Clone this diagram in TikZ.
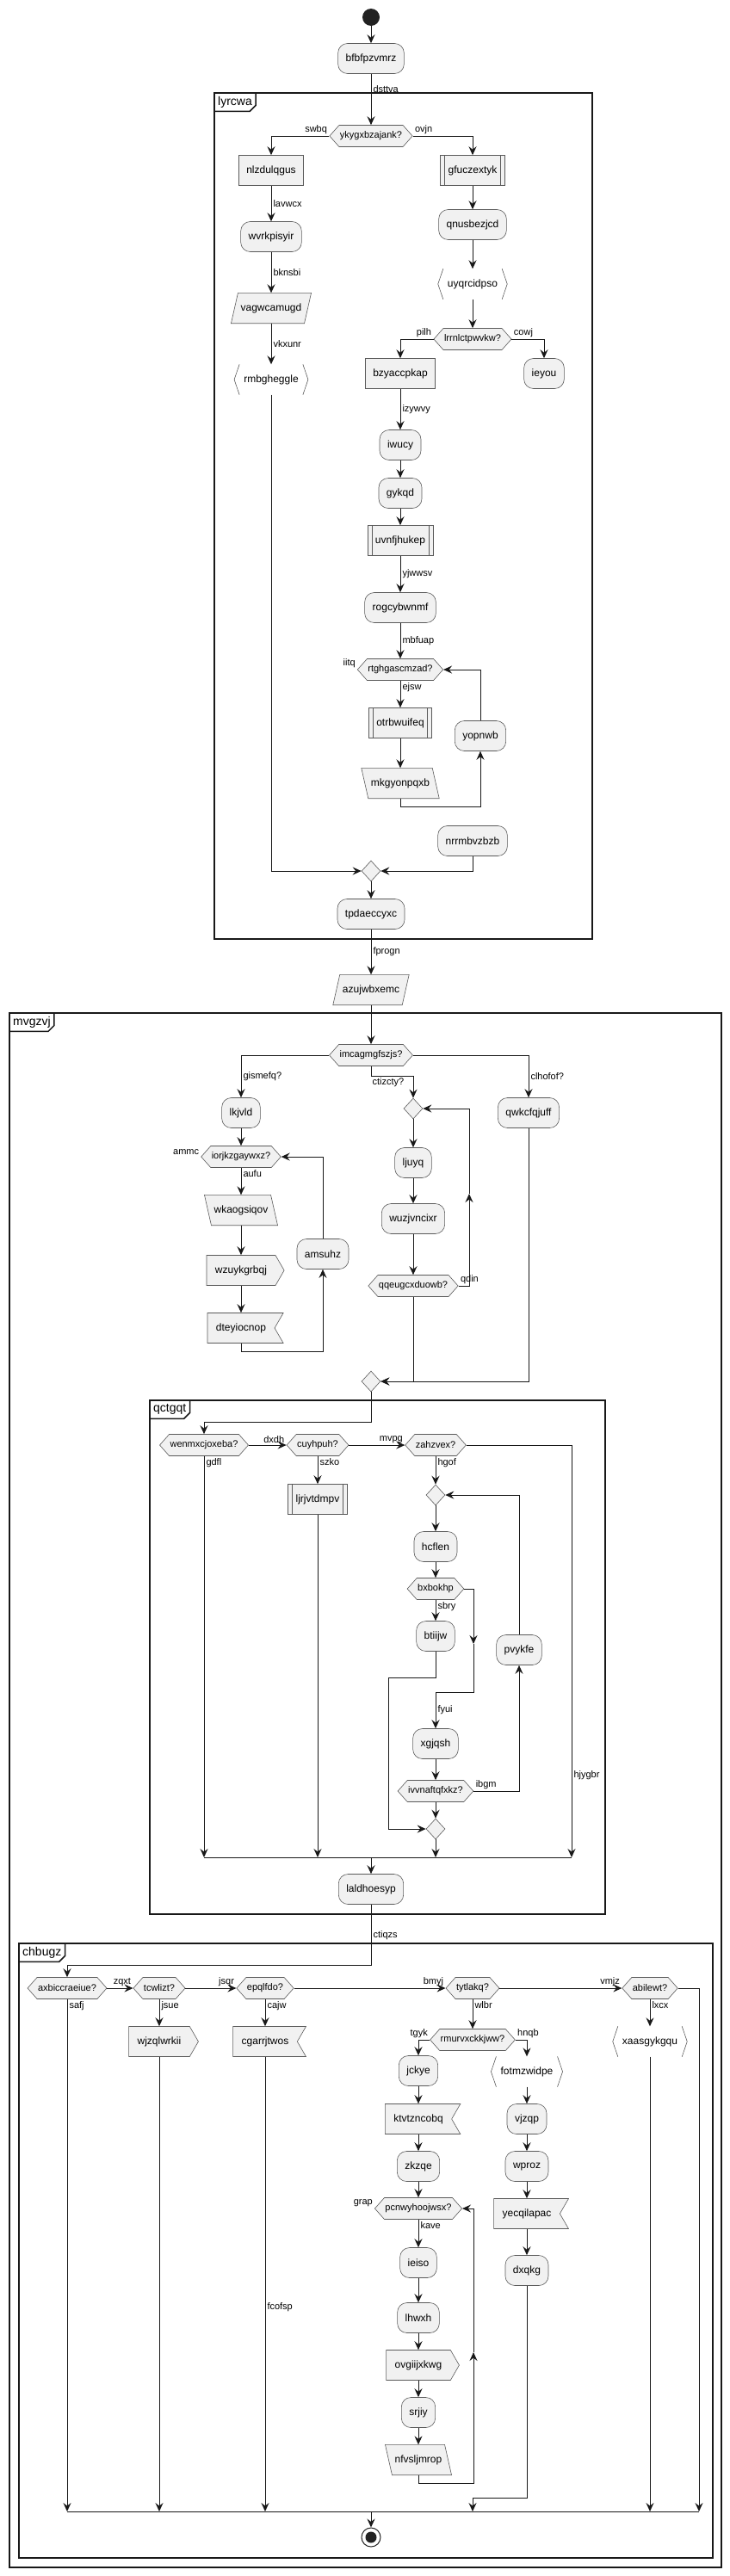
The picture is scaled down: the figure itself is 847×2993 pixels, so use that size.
\documentclass[tikz,border=0pt]{standalone}
\usepackage{fontspec}
\setmainfont{Liberation Sans}
\usetikzlibrary{arrows.meta,shapes.geometric,shapes.symbols,backgrounds}

\definecolor{linec}{HTML}{181818}
\definecolor{boxl}{HTML}{5A5A5A}
\definecolor{boxc}{HTML}{F1F1F1}
\definecolor{dotc}{HTML}{222222}

\tikzset{
    base/.style={draw=boxl, fill=boxc, line width=0.6pt, font=\fontsize{12}{14}\selectfont,
        minimum height=35pt, inner ysep=0pt, inner xsep=9pt},
    act/.style={base, rectangle, rounded corners=11pt},
    plain/.style={base, rectangle},
    sub/.style={base, rectangle, path picture={
        \draw[boxl, line width=0.6pt]
            ([xshift=5pt]path picture bounding box.north west) -- ([xshift=5pt]path picture bounding box.south west)
            ([xshift=-5pt]path picture bounding box.north east) -- ([xshift=-5pt]path picture bounding box.south east);}},
    para/.style={rectangle, font=\fontsize{12}{14}\selectfont, minimum height=35pt, inner ysep=0pt, inner xsep=7pt},
    sigout/.style={base, signal, signal to=east, signal pointer angle=120, inner xsep=10pt},
    signotch/.style={base, signal, signal from=east, signal to=nowhere, signal pointer angle=120, inner xsep=10pt},
    brk/.style={rectangle, font=\fontsize{12}{14}\selectfont, minimum height=35pt, inner ysep=0pt, inner xsep=11pt},
    hex/.style={base, signal, signal to=west and east, signal pointer angle=97,
        font=\fontsize{11}{13}\selectfont, minimum height=25pt, inner xsep=1pt},
    mrg/.style={diamond, draw=boxl, fill=boxc, line width=0.6pt, minimum width=22pt, minimum height=24pt, inner sep=0pt},
    lbl/.style={font=\fontsize{11}{13}\selectfont, inner sep=2pt},
    arr/.style={draw=linec, line width=1pt, -{Stealth[length=10pt,width=9pt,inset=3.5pt]}},
    ln/.style={draw=linec, line width=1pt},
    frm/.style={draw=linec, line width=1.5pt},
    frmlbl/.style={font=\fontsize{14}{16}\selectfont, inner xsep=4pt, inner ysep=0pt, minimum height=21pt, anchor=north west}
}

\begin{document}
\begin{tikzpicture}[x=1pt, y=-1pt]
    \useasboundingbox (0,0) rectangle (847,2993);

    \foreach \ax/\ay/\bx/\by/\fname in {249/108/688/1091/lyrcwa, 11/1177/838/2983/mvgzvj,
            174/1627/703/2224/qctgqt, 22/2258/828/2972/chbugz}{
        \draw[frm] (\ax,\ay) rectangle (\bx,\by);
        \node[frmlbl] (t\fname) at (\ax,\ay) {\fname};
        \draw[frm] (t\fname.south west) -- ([xshift=-7pt]t\fname.south east) -- ([yshift=7pt]t\fname.south east) -- (t\fname.north east);
    }

    % lyrcwa
    \node[circle, fill=dotc, minimum size=20pt, inner sep=0pt] (start) at (431,20) {};
    \node[act] (bfb) at (431,68) {bfbfpzvmrz};
    \node[hex] (yky) at (431,158) {ykygxbzajank?};
    \node[plain] (nlz) at (315,198) {nlzdulqgus};
    \node[sub] (gfu) at (549,198) {gfuczextyk};
    \node[act] (wvr) at (315,275) {wvrkpisyir};
    \node[act] (qnu) at (549,261) {qnusbezjcd};
    \node[para] (vag) at (315,358) {vagwcamugd};
    \node[brk] (uyq) at (549,330) {uyqrcidpso};
    \node[brk] (rmb) at (315,441) {rmbgheggle};
    \node[hex] (lrr) at (549,394) {lrrnlctpwvkw?};
    \node[plain] (bzy) at (465,434) {bzyaccpkap};
    \node[act] (iey) at (632,434) {ieyou};
    \node[act] (iwu) at (465,517) {iwucy};
    \node[act] (gyk) at (465,573) {gykqd};
    \node[sub] (uvn) at (465,628) {uvnfjhukep};
    \node[act] (rog) at (465,706) {rogcybwnmf};
    \node[hex] (rtg) at (465,778) {rtghgascmzad?};
    \node[sub] (otr) at (465,840) {otrbwuifeq};
    \node[para] (mkg) at (465,910) {mkgyonpqxb};
    \node[act] (yop) at (558,855) {yopnwb};
    \node[act] (nrr) at (549,977) {nrrmbvzbzb};
    \node[mrg] (m1) at (431,1012) {};
    \node[act] (tpd) at (431,1062) {tpdaeccyxc};
    \node[para] (azu) at (431,1150) {azujwbxemc};

    % mvgzvj
    \node[hex] (imc) at (431,1226) {imcagmgfszjs?};
    \node[act] (lkj) at (280,1293) {lkjvld};
    \node[act] (qwk) at (614,1293) {qwkcfqjuff};
    \node[mrg] (d2) at (480,1288) {};
    \node[act] (lju) at (480,1351) {ljuyq};
    \node[act] (wuz) at (480,1416) {wuzjvncixr};
    \node[hex] (qqe) at (480,1494) {qqeugcxduowb?};
    \node[hex] (ior) at (280,1344) {iorjkzgaywxz?};
    \node[para] (wka) at (280,1406) {wkaogsiqov};
    \node[sigout] (wzu) at (280,1476) {wzuykgrbqj};
    \node[signotch] (dte) at (280,1543) {dteyiocnop};
    \node[act] (ams) at (375,1457) {amsuhz};
    \node[mrg] (m2) at (431,1605) {};

    % qctgqt
    \node[hex] (wen) at (237,1679) {wenmxcjoxeba?};
    \node[hex] (cuy) at (369,1679) {cuyhpuh?};
    \node[hex] (zah) at (506,1679) {zahzvex?};
    \node[sub] (ljr) at (369,1742) {ljrjvtdmpv};
    \node[mrg] (d3) at (506,1737) {};
    \node[act] (hcf) at (506,1797) {hcflen};
    \node[hex] (bxb) at (506,1846) {bxbokhp};
    \node[act] (bti) at (506,1901) {btiijw};
    \node[act] (xgj) at (506,2026) {xgjqsh};
    \node[hex] (ivv) at (506,2081) {ivvnaftqfxkz?};
    \node[act] (pvy) at (603,1917) {pvykfe};
    \node[mrg] (m3) at (506,2125) {};
    \node[act] (lal) at (431,2195) {laldhoesyp};

    % chbugz
    \node[hex] (axb) at (78,2310) {axbiccraeiue?};
    \node[hex] (tcw) at (185,2310) {tcwlizt?};
    \node[hex] (epq) at (308,2310) {epqlfdo?};
    \node[hex] (tyt) at (549,2310) {tytlakq?};
    \node[hex] (abi) at (755,2310) {abilewt?};
    \node[sigout] (wjz) at (185,2372) {wjzqlwrkii};
    \node[signotch] (cga) at (308,2372) {cgarrjtwos};
    \node[hex] (rmu) at (549,2370) {rmurvxckkjww?};
    \node[act] (jck) at (486,2406) {jckye};
    \node[brk] (fot) at (612,2407) {fotmzwidpe};
    \node[brk] (xaa) at (755,2372) {xaasgykgqu};
    \node[signotch] (ktv) at (486,2462) {ktvtzncobq};
    \node[act] (zkz) at (486,2517) {zkzqe};
    \node[hex] (pcn) at (486,2566) {pcnwyhoojwsx?};
    \node[act] (iei) at (486,2629) {ieiso};
    \node[act] (lhw) at (486,2693) {lhwxh};
    \node[sigout] (ovg) at (486,2748) {ovgiijxkwg};
    \node[act] (srj) at (486,2803) {srjiy};
    \node[para] (nfv) at (486,2858) {nfvsljmrop};
    \node[act] (vjz) at (612,2462) {vjzqp};
    \node[act] (wpr) at (612,2517) {wproz};
    \node[signotch] (yec) at (612,2572) {yecqilapac};
    \node[act] (dxq) at (612,2638) {dxqkg};
    \node[circle, draw=dotc, fill=white, line width=1pt, minimum size=22pt, inner sep=0pt,
        path picture={\fill[dotc] (path picture bounding box.center) circle (6.5pt);}] (stop) at (431,2948) {};

    \begin{scope}[on background layer]
        \foreach \n/\s/\t in {vag/4pt/-4pt, azu/4pt/-4pt, mkg/-4pt/4pt, wka/-4pt/4pt, nfv/-4pt/4pt}{
            \filldraw[fill=boxc, draw=boxl, line width=0.6pt]
                ([xshift=\s]\n.north west) -- ([xshift=\s]\n.north east)
                -- ([xshift=\t]\n.south east) -- ([xshift=\t]\n.south west) -- cycle;
        }
    \end{scope}

    \foreach \n in {uyq,rmb,fot,xaa}{
        \draw[boxl, line width=0.6pt] ([xshift=6pt]\n.north west) -- (\n.west) -- ([xshift=6pt]\n.south west);
        \draw[boxl, line width=0.6pt] ([xshift=-6pt]\n.north east) -- (\n.east) -- ([xshift=-6pt]\n.south east);
    }

    \coordinate (up1) at (545,1387);
    \coordinate (dn1) at (550,1910);
    \coordinate (dn2) at (550,1966);
    \coordinate (g1) at (451,1949);
    \coordinate (up3) at (550,2733);
    \coordinate (b1l) at (237,2158);
    \coordinate (b1r) at (664,2158);
    \coordinate (b2l) at (78,2918);
    \coordinate (b2r) at (812,2918);

    \draw[arr] (start) -- (bfb);
    \draw[arr] (bfb.south) -- node[lbl, right, pos=0.3] {dsttva} (yky.north);
    \draw[arr] (yky.west) -| node[lbl, anchor=south east, pos=0] {swbq} (nlz.north);
    \draw[arr] (yky.east) -| node[lbl, anchor=south west, pos=0] {ovjn} (gfu.north);
    \draw[arr] (nlz.south) -- node[lbl, right] {lavwcx} (wvr.north);
    \draw[arr] (wvr.south) -- node[lbl, right] {bknsbi} (vag.north);
    \draw[arr] (vag.south) -- node[lbl, right] {vkxunr} (rmb.north);
    \draw[arr] (rmb.south) |- (m1.west);
    \draw[arr] (gfu.south) -- (qnu.north);
    \draw[arr] (qnu.south) -- (uyq.north);
    \draw[arr] (uyq.south) -- (lrr.north);
    \draw[arr] (lrr.west) -| node[lbl, anchor=south east, pos=0] {pilh} (bzy.north);
    \draw[arr] (lrr.east) -| node[lbl, anchor=south west, pos=0] {cowj} (iey.north);
    \draw[arr] (bzy.south) -- node[lbl, right] {izywvy} (iwu.north);
    \draw[arr] (iwu.south) -- (gyk.north);
    \draw[arr] (gyk.south) -- (uvn.north);
    \draw[arr] (uvn.south) -- node[lbl, right] {yjwwsv} (rog.north);
    \draw[arr] (rog.south) -- node[lbl, right] {mbfuap} (rtg.north);
    \node[lbl, anchor=south east] (iitq) at (rtg.west) {iitq};
    \draw[arr] (rtg.south) -- node[lbl, anchor=north west, pos=0] {ejsw} (otr.north);
    \draw[arr] (otr.south) -- (mkg.north);
    \draw[arr] (mkg.south) -- ++(0,10) -| (yop.south);
    \draw[arr] (yop.north) |- (rtg.east);
    \draw[arr] (nrr.south) |- (m1.east);
    \draw[arr] (m1.south) -- (tpd.north);
    \draw[arr] (tpd.south) -- node[lbl, right] {fprogn} (azu.north);
    \draw[arr] (azu.south) -- (imc.north);

    \draw[arr] (imc.west) -| node[lbl, right, pos=0.75] {gismefq?} (lkj.north);
    \draw[arr] (imc.east) -| node[lbl, right, pos=0.75] {clhofof?} (qwk.north);
    \draw[arr] (imc.south) -- ++(0,12) node[lbl, anchor=north west, inner sep=1pt] {ctizcty?} -| (d2.north);
    \draw[arr] (lkj.south) -- (ior.north);
    \node[lbl, anchor=south east] (ammc) at (ior.west) {ammc};
    \draw[arr] (ior.south) -- node[lbl, anchor=north west, pos=0] {aufu} (wka.north);
    \draw[arr] (wka.south) -- (wzu.north);
    \draw[arr] (wzu.south) -- (dte.north);
    \draw[arr] (dte.south) -- ++(0,10) -| (ams.south);
    \draw[arr] (ams.north) |- (ior.east);
    \draw[arr] (d2.south) -- (lju.north);
    \draw[arr] (lju.south) -- (wuz.north);
    \draw[arr] (wuz.south) -- (qqe.north);
    \draw[arr] (qqe.east) -| node[lbl, anchor=south west, pos=0] {qdin} (up1);
    \draw[arr] (up1) |- (d2.east);
    \draw[arr] (qqe.south) |- (m2.east);
    \draw[arr] (qwk.south) |- (m2.east);
    \draw[arr] (m2.south) -- ++(0,35) -| (wen.north);

    \draw[arr] (wen.east) -- node[lbl, anchor=south east, pos=1] {dxdh} (cuy.west);
    \draw[arr] (cuy.east) -- node[lbl, anchor=south east, pos=1] {mvpg} (zah.west);
    \draw[arr] (zah.east) -| node[lbl, right, pos=0.9] {hjygbr} (b1r);
    \draw[arr] (wen.south) -- node[lbl, anchor=north west, pos=0] {gdfl} (wen.south |- b1l);
    \draw[arr] (cuy.south) -- node[lbl, anchor=north west, pos=0] {szko} (ljr.north);
    \draw[arr] (ljr.south) -- (ljr.south |- b1l);
    \draw[arr] (zah.south) -- node[lbl, anchor=north west, pos=0] {hgof} (d3.north);
    \draw[arr] (d3.south) -- (hcf.north);
    \draw[arr] (hcf.south) -- (bxb.north);
    \draw[arr] (bxb.south) -- node[lbl, anchor=north west, pos=0] {sbry} (bti.north);
    \draw[arr] (bxb.east) -| (dn1);
    \draw[arr] (dn1) -- (dn2) -| node[lbl, right, pos=0.75] {fyui} (xgj.north);
    \draw[arr] (bti.south) |- (g1) |- (m3.west);
    \draw[arr] (xgj.south) -- (ivv.north);
    \draw[arr] (ivv.east) -| node[lbl, anchor=south west, pos=0] {ibgm} (pvy.south);
    \draw[arr] (pvy.north) |- (d3.east);
    \draw[arr] (ivv.south) -- (m3.north);
    \draw[arr] (m3.south) -- (m3.south |- b1l);
    \draw[ln] (b1l) -- (b1r);
    \draw[arr] (lal.north |- b1l) -- (lal.north);

    \draw[arr] (lal.south) -- node[lbl, right] {ctiqzs} ++(0,71) -| (axb.north);
    \draw[arr] (axb.east) -- node[lbl, anchor=south east, pos=1] {zqxt} (tcw.west);
    \draw[arr] (tcw.east) -- node[lbl, anchor=south east, pos=1] {jsqr} (epq.west);
    \draw[arr] (epq.east) -- node[lbl, anchor=south east, pos=1] {bmyj} (tyt.west);
    \draw[arr] (tyt.east) -- node[lbl, anchor=south east, pos=1] {vmjz} (abi.west);
    \draw[arr] (axb.south) -- node[lbl, anchor=north west, pos=0] {safj} (axb.south |- b2l);
    \draw[arr] (tcw.south) -- node[lbl, anchor=north west, pos=0] {jsue} (wjz.north);
    \draw[arr] (wjz.south) -- (wjz.south |- b2l);
    \draw[arr] (epq.south) -- node[lbl, anchor=north west, pos=0] {cajw} (cga.north);
    \draw[arr] (cga.south) -- node[lbl, right, pos=0.55] {fcofsp} (cga.south |- b2l);
    \draw[arr] (tyt.south) -- node[lbl, anchor=north west, pos=0] {wlbr} (rmu.north);
    \draw[arr] (rmu.west) -| node[lbl, anchor=south east, pos=0] {tgyk} (jck.north);
    \draw[arr] (rmu.east) -| node[lbl, anchor=south west, pos=0] {hnqb} (fot.north);
    \draw[arr] (jck.south) -- (ktv.north);
    \draw[arr] (ktv.south) -- (zkz.north);
    \draw[arr] (zkz.south) -- (pcn.north);
    \node[lbl, anchor=south east] (grap) at (pcn.west) {grap};
    \draw[arr] (pcn.south) -- node[lbl, anchor=north west, pos=0] {kave} (iei.north);
    \draw[arr] (iei.south) -- (lhw.north);
    \draw[arr] (lhw.south) -- (ovg.north);
    \draw[arr] (ovg.south) -- (srj.north);
    \draw[arr] (srj.south) -- (nfv.north);
    \draw[arr] (nfv.south) -- ++(0,10) -| (up3);
    \draw[arr] (up3) |- (pcn.east);
    \draw[arr] (fot.south) -- (vjz.north);
    \draw[arr] (vjz.south) -- (wpr.north);
    \draw[arr] (wpr.south) -- (yec.north);
    \draw[arr] (yec.south) -- (dxq.north);
    \draw[arr] (dxq.south) -- ++(0,247) -| (tyt.south |- b2l);
    \draw[arr] (abi.east) -| (b2r);
    \draw[arr] (abi.south) -- node[lbl, anchor=north west, pos=0] {lxcx} (xaa.north);
    \draw[arr] (xaa.south) -- (xaa.south |- b2l);
    \draw[ln] (b2l) -- (b2r);
    \draw[arr] (stop.north |- b2l) -- (stop.north);

\end{tikzpicture}
\end{document}
